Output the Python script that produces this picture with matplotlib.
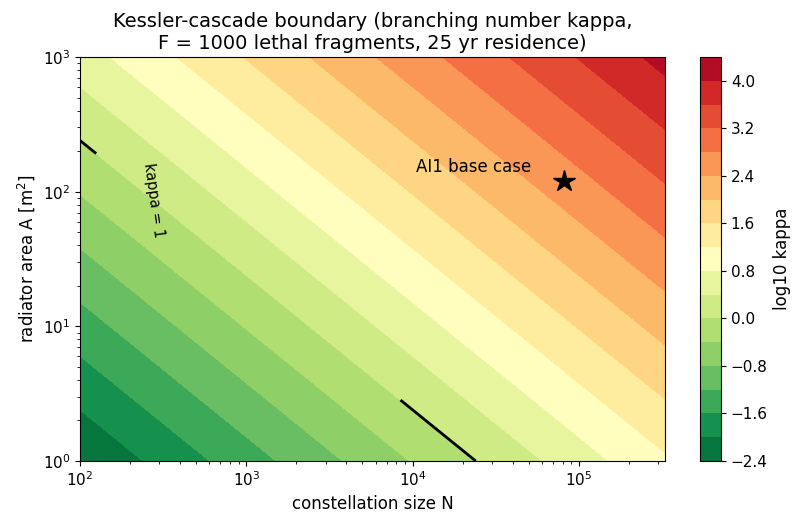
import numpy as np
import matplotlib.pyplot as plt

# model parameters
F = 1000.0            # lethal fragments per break-up
T_res = 25.0          # residence time, yr
p_hit = 1.0 / (F * 2.4e4)   # per (N * A) kill probability, calibrated so kappa = 1 at N*A ~ 2.4e4

# grid
N_min, N_max = 1e2, 3.3e5
A_min, A_max = 1e0, 1e3

# base case
N_base = 8.2e4
A_base = 120.0

# where the kappa = 1 label sits
label_pos = (272.0, 86.0)

levels = np.arange(-2.4, 4.41, 0.4)

N = np.logspace(np.log10(N_min), np.log10(N_max), 300)
A = np.logspace(np.log10(A_min), np.log10(A_max), 300)
NN, AA = np.meshgrid(N, A)
kappa = F * p_hit * NN * AA
logk = np.log10(kappa)

fig = plt.figure(figsize=(7.95, 5.18), dpi=100)
ax = fig.add_axes([0.1006, 0.110, 0.7359, 0.780])
cax = fig.add_axes([0.8805, 0.110, 0.0265, 0.780])

cf = ax.contourf(NN, AA, logk, levels=levels, cmap='RdYlGn_r')
cs = ax.contour(NN, AA, kappa, levels=[1.0], colors='k', linewidths=2)
ax.clabel(cs, fmt={1.0: 'kappa = 1'}, fontsize=10.5, manual=[label_pos])

ax.plot(N_base, A_base, marker='*', color='k', markersize=16)
ax.annotate('AI1 base case', (N_base, A_base), xytext=(-24, 10),
            textcoords='offset points', ha='right', va='center', fontsize=12)

ax.set_xscale('log')
ax.set_yscale('log')
ax.set_xlim(N_min, N_max)
ax.set_ylim(A_min, A_max)
ax.set_xlabel('constellation size N', fontsize=12)
ax.set_ylabel('radiator area A [m$^2$]', fontsize=12)
ax.set_title('Kessler-cascade boundary (branching number kappa,\n'
             'F = 1000 lethal fragments, 25 yr residence)', fontsize=14)
ax.tick_params(labelsize=11)

cb = fig.colorbar(cf, cax=cax)
cb.set_label('log10 kappa', fontsize=12)
cb.set_ticks(np.arange(-2.4, 4.41, 0.8))
cb.ax.tick_params(labelsize=11)

fig.savefig('out.png')
